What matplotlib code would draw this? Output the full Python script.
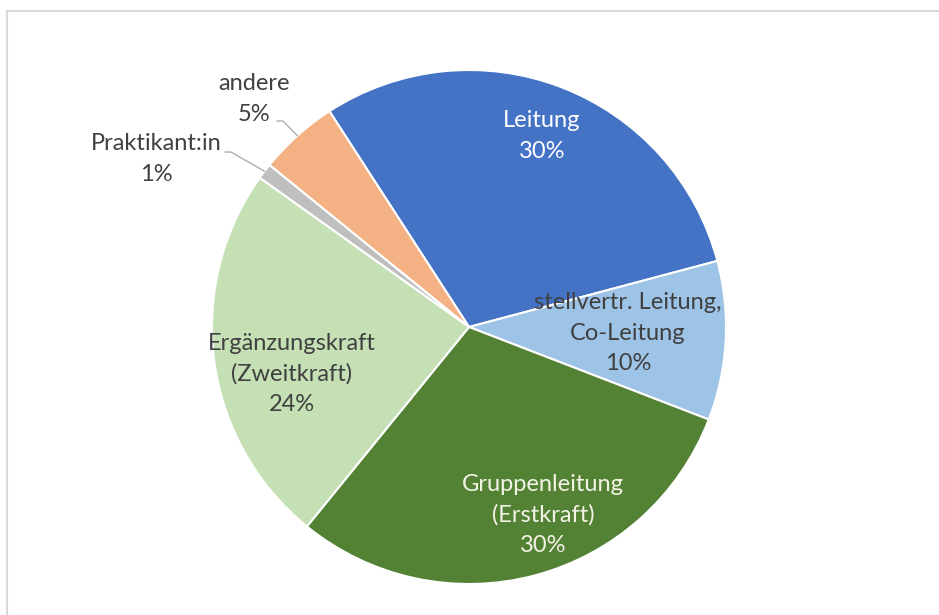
import numpy as np
import matplotlib.pyplot as plt

# Daten (im Uhrzeigersinn, beginnend mit "Leitung")
labels = [
    "Leitung",
    "stellvertr. Leitung,\nCo-Leitung",
    "Gruppenleitung\n(Erstkraft)",
    "Ergänzungskraft\n(Zweitkraft)",
    "Praktikant:in",
    "andere",
]
values = [30, 10, 30, 24, 1, 5]
colors = ["#4472C4", "#9DC3E6", "#548235", "#C5E0B4", "#BFBFBF", "#F4B183"]
text_colors = ["white", "#404040", "#F2F2E6", "#404040", "#404040", "#404040"]

# Layout (Pixel, y nach unten)
W, H = 939, 615
cx, cy, R = 469, 327, 257
start = 122.9
label_pos = [(542, 136), (628, 333), (543, 515), (292, 374), (156, 159), (254, 99)]
leader_start = [None, None, None, None, (225, 152), (277, 121)]
leader_elbow = [None, None, None, None, (231, 152), (283, 121)]

plt.rcParams["font.family"] = ["Lato", "DejaVu Sans"]

fig = plt.figure(figsize=(W / 100, H / 100), dpi=100)
ax = fig.add_axes([0, 0, 1, 1])

wedges, _ = ax.pie(
    values,
    colors=colors,
    startangle=start,
    counterclock=False,
    center=(cx, H - cy),
    radius=R,
    wedgeprops=dict(edgecolor="white", linewidth=1.5),
    frame=True,
)
ax.set_xlim(0, W)
ax.set_ylim(0, H)
ax.set_aspect("equal")
ax.axis("off")

for i, w in enumerate(wedges):
    txt = f"{labels[i]}\n{values[i]}%"
    x, y = label_pos[i]
    ax.text(x, H - y, txt, ha="center", va="center", fontsize=17,
            color=text_colors[i], linespacing=1.55)
    if leader_start[i] is not None:
        mid = np.deg2rad((w.theta1 + w.theta2) / 2)
        ex = cx + R * np.cos(mid)
        ey = (H - cy) + R * np.sin(mid)
        sx, sy = leader_start[i]
        bx, by = leader_elbow[i]
        ax.plot([sx, bx, ex], [H - sy, H - by, ey], color="#A6A6A6", lw=0.9)

# Rahmen des Diagrammbereichs (oben und links sichtbar)
ax.plot([6.5, 6.5, W], [0, H - 10.5, H - 10.5], color="#D9D9D9", lw=1.5,
        solid_joinstyle="miter")

fig.savefig("out.png", dpi=100, facecolor="white")
